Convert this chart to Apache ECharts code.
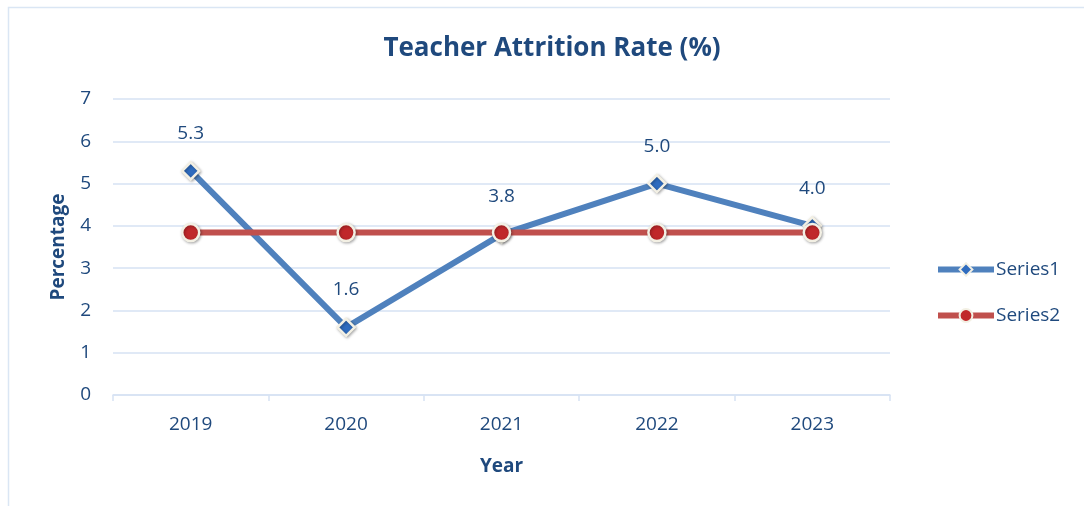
<!DOCTYPE html>
<html>
<head>
<meta charset="utf-8">
<script src="https://cdn.jsdelivr.net/npm/echarts@6/dist/echarts.min.js"></script>
<style>
html, body { margin: 0; padding: 0; background: #fff; }
#chart { width: 1084px; height: 506px; }
</style>
</head>
<body>
<div id="chart"></div>
<script>
var years = ['2019', '2020', '2021', '2022', '2023'];
var series1 = [5.3, 1.6, 3.8, 5.0, 4.0];
var series2 = [3.84, 3.84, 3.84, 3.84, 3.84];
var yTicks = [0, 1, 2, 3, 4, 5, 6, 7];

var textColor = '#1f497d';
var gridColor = '#d6e2f3';

var myChart = echarts.init(document.getElementById('chart'));

var option = {
	backgroundColor: '#fff',
	textStyle: {fontFamily: 'Open Sans'},
	graphic: [{
		type: 'rect',
		shape: {x: 8.5, y: 7.5, width: 1100, height: 520},
		style: {fill: 'none', stroke: '#dae6f4', lineWidth: 1.5},
		silent: true
	}],
	title: {
		text: 'Teacher Attrition Rate (%)',
		left: 547,
		textAlign: 'center',
		top: 31,
		textStyle: {color: textColor, fontSize: 26, fontWeight: 'bold', fontFamily: 'Open Sans'}
	},
	legend: {
		orient: 'vertical',
		left: 930,
		top: 255,
		itemGap: 27,
		itemWidth: 56,
		itemHeight: 16,
		lineStyle: {width: 6},
		textStyle: {color: textColor, fontSize: 19, padding: [0, 0, 0, -3]},
		data: ['Series1', 'Series2']
	},
	grid: {left: 113, right: 194, top: 99, bottom: 111},
	xAxis: {
		type: 'category',
		data: years,
		boundaryGap: true,
		name: 'Year',
		nameLocation: 'middle',
		nameGap: 62,
		nameTextStyle: {color: textColor, fontSize: 19, fontWeight: 'bold'},
		axisLine: {lineStyle: {color: gridColor, width: 1.5}},
		axisTick: {show: true, length: 6, lineStyle: {color: gridColor, width: 1.5}},
		axisLabel: {color: textColor, fontSize: 19, margin: 20}
	},
	yAxis: {
		type: 'value',
		min: yTicks[0],
		max: yTicks[yTicks.length - 1],
		interval: 1,
		name: 'Percentage',
		nameLocation: 'middle',
		nameGap: 45,
		nameTextStyle: {color: textColor, fontSize: 19, fontWeight: 'bold'},
		axisLine: {show: false},
		axisTick: {show: false},
		axisLabel: {color: textColor, fontSize: 19, margin: 22},
		splitLine: {lineStyle: {color: gridColor, width: 1.5}}
	},
	series: [
	{
		name: 'Series1',
		type: 'line',
		data: series1,
		z: 2,
		symbol: 'diamond',
		symbolSize: 17,
		lineStyle: {color: '#4f81bd', width: 6},
		itemStyle: {color: '#2f6cbf', borderColor: '#f3f0e4', borderWidth: 2.5,
			shadowColor: 'rgba(0,0,0,0.3)', shadowBlur: 3, shadowOffsetX: 1, shadowOffsetY: 1},
		label: {
			show: true,
			position: 'top',
			distance: 18,
			color: textColor,
			fontSize: 19,
			formatter: function (p) { return p.value.toFixed(1); }
		}
	},
	{
		name: 'Series2',
		type: 'line',
		data: series2,
		z: 3,
		symbol: 'circle',
		symbolSize: 17,
		lineStyle: {color: '#c0504d', width: 6},
		itemStyle: {color: '#c0282a', borderColor: '#f3f0e4', borderWidth: 2.5,
			shadowColor: 'rgba(0,0,0,0.3)', shadowBlur: 3, shadowOffsetX: 1, shadowOffsetY: 1}
	}
	]
};

myChart.setOption(option);
</script>
</body>
</html>
